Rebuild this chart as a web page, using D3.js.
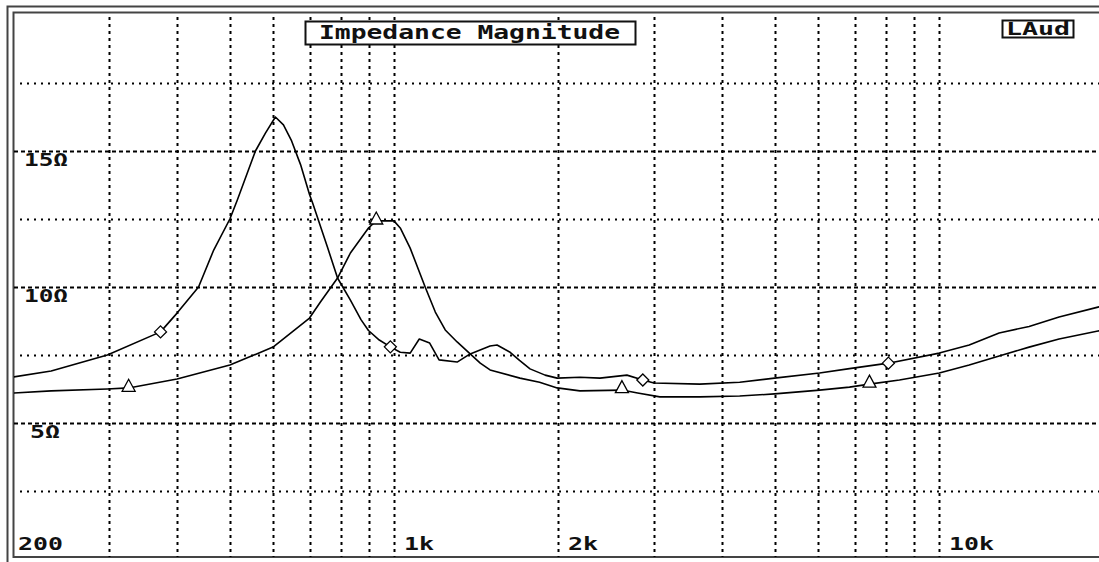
<!DOCTYPE html>
<html>
<head>
<meta charset="utf-8">
<script src="https://cdn.jsdelivr.net/npm/d3@7"></script>
<style>
  html, body { margin: 0; padding: 0; background: #fff; }
  svg { display: block; }
  text { font-family: "DejaVu Sans Mono", "Liberation Mono", monospace; font-weight: bold; fill: #111; }
</style>
</head>
<body>
<svg id="chart" width="1099" height="562"></svg>
<script>
// ---- data ----
const freqA = [200, 235, 298, 373, 400, 438, 467, 500, 516, 557, 581, 606, 627, 649, 674, 700, 709, 755, 788, 832, 870, 898, 940, 985, 1027, 1071, 1113, 1163, 1210, 1306, 1380, 1501, 1546, 1634, 1700, 1777, 1894, 1993, 2194, 2388, 2676, 2862, 3000, 3640, 4309, 4993, 6039, 6852, 8077, 10014, 11365, 12896, 14636, 16612, 19580, 20000];
const ohmA  = [6.69, 6.91, 7.5, 8.35, 9.04, 10.0, 11.36, 12.5, 13.2, 15.0, 15.66, 16.25, 15.96, 15.37, 14.5, 13.4, 13.1, 11.47, 10.33, 9.52, 8.8, 8.4, 8.05, 7.8, 7.6, 7.57, 8.09, 7.94, 7.32, 7.24, 7.54, 7.83, 7.87, 7.6, 7.3, 6.99, 6.76, 6.65, 6.68, 6.65, 6.76, 6.58, 6.47, 6.43, 6.5, 6.65, 6.84, 7.0, 7.2, 7.57, 7.87, 8.31, 8.55, 8.9, 9.26, 9.3];

const freqB = [200, 235, 298, 326, 400, 500, 600, 700, 733, 788, 832, 898, 928, 1000, 1027, 1071, 1141, 1191, 1242, 1306, 1380, 1440, 1501, 1703, 1850, 1993, 2194, 2620, 2800, 3075, 3640, 4309, 4993, 6039, 6852, 7456, 8463, 10014, 11365, 12896, 14636, 16612, 19580, 20000];
const ohmB  = [6.1, 6.18, 6.25, 6.29, 6.62, 7.13, 7.79, 8.86, 9.45, 10.33, 11.25, 12.17, 12.43, 12.43, 12.17, 11.43, 10.0, 9.08, 8.42, 7.98, 7.54, 7.2, 6.95, 6.65, 6.5, 6.29, 6.18, 6.21, 6.1, 5.96, 5.96, 5.99, 6.07, 6.21, 6.32, 6.43, 6.58, 6.84, 7.13, 7.46, 7.79, 8.09, 8.38, 8.42];

const markerFreqA = [373, 985, 2862, 8077];
const markerOhmA  = [8.35, 7.8, 6.58, 7.2];
const markerFreqB = [326, 928, 2620, 7456];
const markerOhmB  = [6.35, 12.5, 6.3, 6.5];

const xGridFreqs = [300, 400, 500, 600, 700, 800, 900, 1000, 2000, 3000, 4000, 5000, 6000, 7000, 8000, 9000, 10000];
const yGridOhms  = [2.5, 5, 7.5, 10, 12.5, 15, 17.5];
const xTickFreqs  = [200, 1000, 2000, 10000];
const xTickLabels = ["200", "1k", "2k", "10k"];
const yTickOhms   = [15, 10, 5];
const yTickLabels = ["15Ω", "10Ω", "5Ω"];
const titleText = "Impedance Magnitude";
const badgeText = "LAud";

// ---- scales ----
const svg = d3.select("#chart");
const x = d3.scaleLog().domain([200, 20000]).range([13, 1103]);
const y = d3.scaleLinear().domain([0, 20]).range([559, 15]);

// ---- frame ----
svg.append("rect").attr("x", 7.5).attr("y", 6.5).attr("width", 1110).attr("height", 570)
  .attr("fill", "none").attr("stroke", "#444").attr("stroke-width", 2);
svg.append("rect").attr("x", 13.5).attr("y", 12.5).attr("width", 1089.5).attr("height", 544.5)
  .attr("fill", "#fff").attr("stroke", "#444").attr("stroke-width", 2);

// ---- grid ----
const grid = svg.append("g");
grid.selectAll("line.v").data(xGridFreqs).enter().append("line")
  .attr("x1", d => Math.round(x(d)) + 0.5).attr("x2", d => Math.round(x(d)) + 0.5)
  .attr("y1", 17).attr("y2", 557)
  .attr("stroke", "#000").attr("stroke-width", 2).attr("stroke-dasharray", "3,4");
grid.selectAll("line.h").data(yGridOhms).enter().append("line")
  .attr("x1", d => d % 5 === 0 ? 14 : 20).attr("x2", 1103)
  .attr("y1", d => Math.round(y(d)) + 0.5).attr("y2", d => Math.round(y(d)) + 0.5)
  .attr("stroke", "#000").attr("stroke-width", 2)
  .attr("stroke-dasharray", d => d % 5 === 0 ? "4,3" : "2,5");

// ---- axis labels ----
svg.selectAll("text.yl").data(yTickOhms).enter().append("text")
  .attr("x", d => d === 5 ? 30 : 24).attr("y", d => y(d) + 15)
  .attr("font-size", 18)
  .attr("textLength", d => d === 5 ? 30 : 44).attr("lengthAdjust", "spacingAndGlyphs")
  .text((d, i) => yTickLabels[i]);
svg.selectAll("text.xl").data(xTickFreqs).enter().append("text")
  .attr("x", d => d === 200 ? 18 : x(d) + 10).attr("y", 550)
  .attr("font-size", 18)
  .attr("textLength", (d, i) => xTickLabels[i].length * 15).attr("lengthAdjust", "spacingAndGlyphs")
  .text((d, i) => xTickLabels[i]);

// ---- title box ----
svg.append("rect").attr("x", 305.5).attr("y", 21.5).attr("width", 330).attr("height", 23)
  .attr("fill", "#fff").attr("stroke", "#111").attr("stroke-width", 2);
svg.append("text").attr("x", 319).attr("y", 39).attr("font-size", 19)
  .attr("textLength", 301).attr("lengthAdjust", "spacingAndGlyphs").text(titleText);

// ---- badge ----
svg.append("rect").attr("x", 1002.5).attr("y", 20.5).attr("width", 71).attr("height", 17)
  .attr("fill", "#fff").attr("stroke", "#111").attr("stroke-width", 2);
svg.append("text").attr("x", 1006).attr("y", 35).attr("font-size", 17)
  .attr("textLength", 64).attr("lengthAdjust", "spacingAndGlyphs").text(badgeText);

// ---- curves ----
const line = d3.line().x(d => x(d[0])).y(d => y(d[1]));
const dataA = freqA.map((f, i) => [f, ohmA[i]]);
const dataB = freqB.map((f, i) => [f, ohmB[i]]);
svg.append("defs").append("clipPath").attr("id", "plot")
  .append("rect").attr("x", 14).attr("y", 13).attr("width", 1089).attr("height", 543);
const curves = svg.append("g").attr("clip-path", "url(#plot)");
[dataA, dataB].forEach(d => {
  curves.append("path").datum(d).attr("d", line)
    .attr("fill", "none").attr("stroke", "#000").attr("stroke-width", 1.6)
    .attr("stroke-linejoin", "round");
});

// ---- markers ----
curves.selectAll("path.dia").data(markerFreqA.map((f, i) => [f, markerOhmA[i]])).enter().append("path")
  .attr("d", d => { const cx = x(d[0]), cy = y(d[1]);
    return `M${cx},${cy - 6}L${cx + 6},${cy}L${cx},${cy + 6}L${cx - 6},${cy}Z`; })
  .attr("fill", "#fff").attr("stroke", "#000").attr("stroke-width", 1.3);
curves.selectAll("path.tri").data(markerFreqB.map((f, i) => [f, markerOhmB[i]])).enter().append("path")
  .attr("d", d => { const cx = x(d[0]), cy = y(d[1]);
    return `M${cx - 6.5},${cy + 5}L${cx},${cy - 7}L${cx + 6.5},${cy + 5}Z`; })
  .attr("fill", "#fff").attr("stroke", "#000").attr("stroke-width", 1.3);
</script>
</body>
</html>
